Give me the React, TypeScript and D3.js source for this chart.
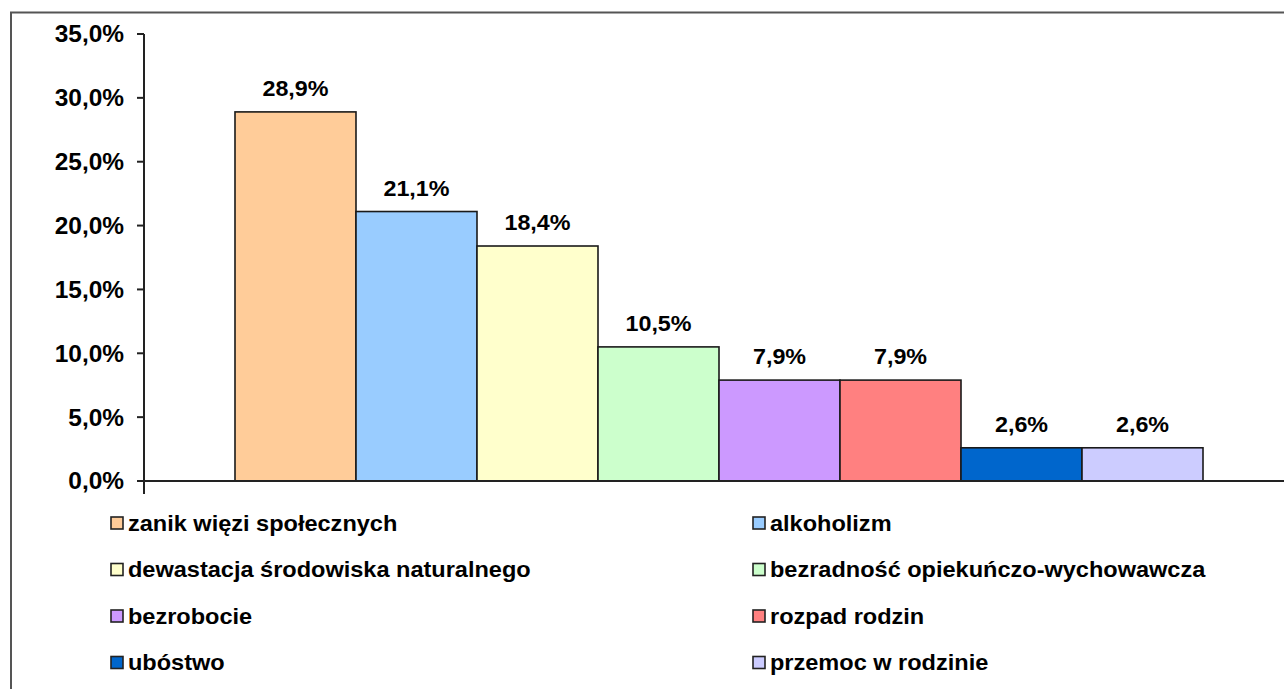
import React from "react";
import * as d3 from "d3";

const categories = [
  "zanik więzi społecznych",
  "alkoholizm",
  "dewastacja środowiska naturalnego",
  "bezradność opiekuńczo-wychowawcza",
  "bezrobocie",
  "rozpad rodzin",
  "ubóstwo",
  "przemoc w rodzinie",
];
const values = [28.9, 21.1, 18.4, 10.5, 7.9, 7.9, 2.6, 2.6];
const colors = ["#FFCC99", "#99CCFF", "#FFFFCC", "#CCFFCC", "#CC99FF", "#FF8080", "#0066CC", "#CCCCFF"];
const yTicks = [0, 5, 10, 15, 20, 25, 30, 35];

const W = 1284;
const H = 689;
const FONT = "'Liberation Sans', Arial, sans-serif";

const fmt = (v: number) => v.toFixed(1).replace(".", ",") + "%";

export default function App() {
  const y = d3.scaleLinear().domain([0, 35]).range([481, 34]);
  const x = d3.scaleBand<string>().domain(categories).range([144, 1294]).paddingInner(0).paddingOuter(0.752);

  const legendCols = [111, 753];
  const legendRow0 = 523;
  const legendRowStep = 46.5;

  return (
    <svg width={W} height={H} style={{ position: "absolute", left: 0, top: 0, background: "#fff" }}>
      <rect x={0} y={0} width={W} height={H} fill="#fff" />
      {/* frame */}
      <path d={`M11,${H + 5} L11,12.5 L${W + 5},12.5`} fill="none" stroke="#555" strokeWidth={2} />

      {/* bars */}
      {categories.map((c, i) => (
        <rect
          key={c}
          x={x(c)}
          y={y(values[i])}
          width={x.bandwidth()}
          height={y(0) - y(values[i])}
          fill={colors[i]}
          stroke="#1a1a1a"
          strokeWidth={1.6}
        />
      ))}

      {/* data labels */}
      {categories.map((c, i) => (
        <text
          key={"l" + c}
          transform={`translate(${(x(c) as number) + x.bandwidth() / 2},${y(values[i]) - 16}) scale(1.06,1)`}
          textAnchor="middle"
          fontFamily={FONT}
          fontWeight="bold"
          fontSize={22}
          fill="#000"
        >
          {fmt(values[i])}
        </text>
      ))}

      {/* x axis */}
      <line x1={144} x2={W} y1={y(0)} y2={y(0)} stroke="#222" strokeWidth={2} />
      {/* y axis */}
      <line x1={144} x2={144} y1={y(35)} y2={494} stroke="#222" strokeWidth={2} />
      {yTicks.map((t) => (
        <g key={t}>
          <line x1={137} x2={144} y1={y(t)} y2={y(t)} stroke="#222" strokeWidth={2} />
          <text
            transform={`translate(124,${y(t)}) scale(1.04,1)`}
            dy="0.36em"
            textAnchor="end"
            fontFamily={FONT}
            fontWeight="bold"
            fontSize={23.5}
            fill="#000"
          >
            {fmt(t)}
          </text>
        </g>
      ))}

      {/* legend */}
      {categories.map((c, i) => {
        const col = i % 2;
        const row = Math.floor(i / 2);
        const lx = legendCols[col];
        const ly = legendRow0 + row * legendRowStep;
        return (
          <g key={"lg" + c}>
            <rect x={lx} y={ly - 6} width={12} height={12} fill={colors[i]} stroke="#222" strokeWidth={1.6} />
            <text
              transform={`translate(${lx + 17},${ly}) scale(1.07,1)`}
              dy="0.35em"
              fontFamily={FONT}
              fontWeight="bold"
              fontSize={22}
              fill="#000"
            >
              {c}
            </text>
          </g>
        );
      })}
    </svg>
  );
}
